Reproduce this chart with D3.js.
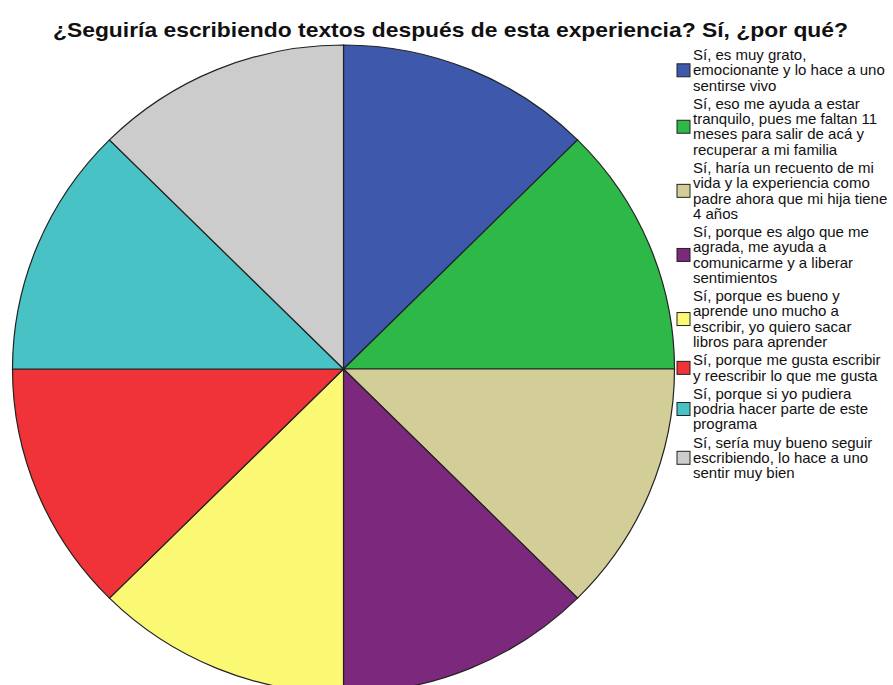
<!DOCTYPE html>
<html><head><meta charset="utf-8">
<script src="https://cdn.jsdelivr.net/npm/d3@7"></script>
<style>body{margin:0;background:#fff}svg{display:block}</style>
</head><body>
<script>
const title = "¿Seguiría escribiendo textos después de esta experiencia? Sí, ¿por qué?";
const categories = [
  ["Sí, es muy grato,", "emocionante y lo hace a uno", "sentirse vivo"],
  ["Sí, eso me ayuda a estar", "tranquilo, pues me faltan 11", "meses para salir de acá y", "recuperar a mi familia"],
  ["Sí, haría un recuento de mi", "vida y la experiencia como", "padre ahora que mi hija tiene", "4 años"],
  ["Sí, porque es algo que me", "agrada, me ayuda a", "comunicarme y a liberar", "sentimientos"],
  ["Sí, porque es bueno y", "aprende uno mucho a", "escribir, yo quiero sacar", "libros para aprender"],
  ["Sí, porque me gusta escribir", "y reescribir lo que me gusta"],
  ["Sí, porque si yo pudiera", "podria hacer parte de este", "programa"],
  ["Sí, sería muy bueno seguir", "escribiendo, lo hace a uno", "sentir muy bien"]
];
const values = [1, 1, 1, 1, 1, 1, 1, 1];
const colors = ["#3E58AC", "#2EB848", "#D3CE97", "#7C287D", "#FBF873", "#EF3338", "#48C2C5", "#CCCCCC"];

const W = 893, H = 685;
const svg = d3.select("body").append("svg").attr("width", W).attr("height", H);

svg.append("text").attr("x", 53).attr("y", 37)
  .attr("font-family", "Liberation Sans, Arial, sans-serif")
  .attr("font-weight", "bold").attr("font-size", 21)
  .attr("textLength", 795).attr("lengthAdjust", "spacingAndGlyphs")
  .attr("fill", "#111").text(title);

const cx = 343.5, cy = 369, rx = 331, ry = 324;
const pie = d3.pie().sort(null).value(d => d)(values);
const arc = d3.arc().innerRadius(0).outerRadius(rx);
const g = svg.append("g").attr("transform", `translate(${cx},${cy}) scale(1,${ry/rx})`);
g.selectAll("path").data(pie).join("path")
  .attr("d", arc)
  .attr("fill", (d, i) => colors[i])
  .attr("stroke", "#222").attr("stroke-width", 1.2)
  .attr("vector-effect", "non-scaling-stroke");

// legend
const lh = 15.3, gap = 2.9;
let y = 55;
const lg = svg.append("g").attr("font-family", "Liberation Sans, Arial, sans-serif").attr("font-size", 15).attr("fill", "#111");
categories.forEach((lines, i) => {
  const yStart = y;
  lines.forEach((t, j) => {
    lg.append("text").attr("x", 693).attr("y", y + 5).text(t);
    if (j < lines.length - 1) y += lh;
  });
  const yc = (yStart + y) / 2;
  lg.append("rect").attr("x", 677).attr("y", yc - 6.5).attr("width", 13).attr("height", 13)
    .attr("fill", colors[i]).attr("stroke", "#222").attr("stroke-width", 1);
  y += lh + gap;
});
</script>
</body></html>
